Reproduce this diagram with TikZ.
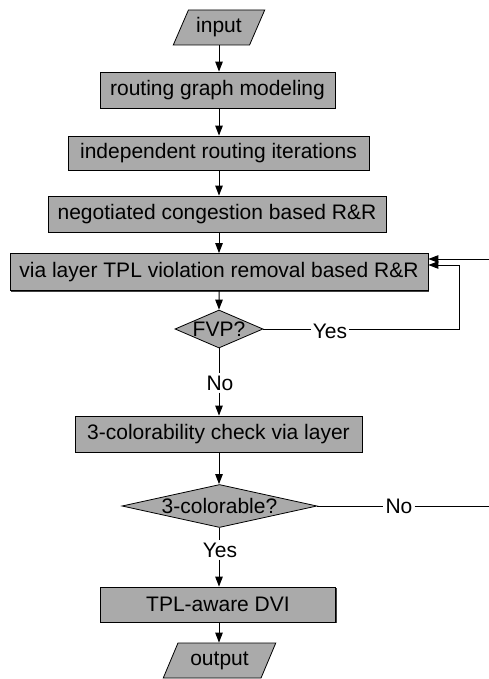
\documentclass[tikz,border=0pt]{standalone}
\usepackage{fontspec}
\setmainfont{Liberation Sans}
\usetikzlibrary{shapes.geometric,arrows.meta,shadows}
\definecolor{boxgray}{RGB}{170,170,170}
\begin{document}
\begin{tikzpicture}[x=1pt,y=-1pt,
 font=\fontsize{21}{25}\selectfont,
 procbox/.style={draw=black, fill=boxgray, line width=0.8pt, minimum height=36pt, inner sep=0pt,
   drop shadow={shadow xshift=1pt,shadow yshift=-1pt,fill=black!75,opacity=1}},
 iobox/.style={trapezium, trapezium left angle=60, trapezium right angle=120, trapezium stretches=true,
   draw=black, fill=boxgray, line width=0.8pt, minimum height=35pt, inner sep=0pt},
 decbox/.style={diamond, draw=black, fill=boxgray, line width=0.8pt, inner sep=0pt},
 dectext/.style={inner sep=0pt},
 arr/.style={-{Triangle[length=10pt,width=7.5pt]}, line width=1pt},
 ln/.style={line width=1pt},
 lab/.style={inner sep=2pt}]
\useasboundingbox (0,0) rectangle (489,679);
\node[iobox, minimum width=92pt] (in) at (219,27.5) {input};
\node[procbox, minimum width=235pt] (b1) at (217.5,90) {routing graph modeling};
\node[procbox, minimum width=301pt, minimum height=34pt] (b2) at (218.5,153) {independent routing iterations};
\node[procbox, minimum width=338pt] (b3) at (217,214) {negotiated congestion based R\&R};
\node[procbox, minimum width=418pt, minimum height=37pt] (b4) at (219,272) {via layer TPL violation removal based R\&R};
\node[decbox, minimum width=88pt, minimum height=38pt] (d1) at (219,329) {};
\node[dectext] (d1t) at (d1) {FVP?};
\node[lab] (no1) at (220,383) {No};
\node[lab] (yes1) at (330,331) {Yes};
\node[procbox, minimum width=287pt] (b5) at (218.5,434) {3-colorability check via layer};
\node[decbox, minimum width=195pt, minimum height=43pt] (d2) at (219.5,506) {};
\node[dectext] (d2t) at (d2) {3-colorable?};
\node[lab] (no2) at (399,506) {No};
\node[lab] (yes2) at (220,550) {Yes};
\node[procbox, minimum width=235pt, minimum height=35pt] (b6) at (218,604.5) {TPL-aware DVI};
\node[iobox, minimum width=113pt] (out) at (219.5,660.5) {output};
\coordinate (loopx) at (459,265);
\coordinate (e1) at (489,259);
\coordinate (e2) at (489,506);
% main flow
\draw[arr] (in.south) -- (in.south |- b1.north);
\draw[arr] (in.south |- b1.south) -- (in.south |- b2.north);
\draw[arr] (in.south |- b2.south) -- (in.south |- b3.north);
\draw[arr] (in.south |- b3.south) -- (in.south |- b4.north);
\draw[arr] (in.south |- b4.south) -- (d1.north);
\draw[ln] (d1.south) -- (d1.south |- no1.north);
\draw[arr] (d1.south |- no1.south) -- (d1.south |- b5.north);
\draw[arr] (d1.south |- b5.south) -- (d1.south |- d2.north);
\draw[ln] (d1.south |- d2.south) -- (d1.south |- yes2.north);
\draw[arr] (d1.south |- yes2.south) -- (d1.south |- b6.north);
\draw[arr] (d1.south |- b6.south) -- (d1.south |- out.north);
% FVP loop
\draw[ln] (d1.east) -- (yes1.west |- d1.east);
\draw[arr] (yes1.east |- d1.east) -| (loopx) -- (b4.east |- loopx);
\draw[arr] (e1) -- (b4.east |- e1);
% 3-colorable No
\draw[ln] (d2.east) -- (no2.west |- d2.east);
\draw[ln] (no2.east |- d2.east) -- (e2);
\end{tikzpicture}
\end{document}
